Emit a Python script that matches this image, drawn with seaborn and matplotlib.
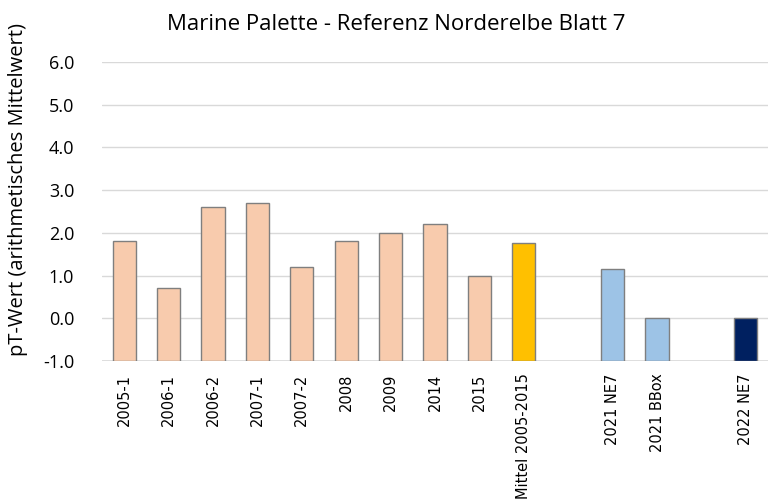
import matplotlib
matplotlib.use("Agg")
import matplotlib.pyplot as plt
import seaborn as sns
import pandas as pd
import numpy as np

# Data
slots = ["2005-1", "2006-1", "2006-2", "2007-1", "2007-2", "2008", "2009", "2014", "2015",
         "Mittel 2005-2015", " ", "2021 NE7", "2021 BBox", "  ", "2022 NE7"]
categories = ["2005-1", "2006-1", "2006-2", "2007-1", "2007-2", "2008", "2009", "2014", "2015",
              "Mittel 2005-2015", "2021 NE7", "2021 BBox", "2022 NE7"]
values = [1.8, 0.7, 2.6, 2.7, 1.2, 1.8, 2.0, 2.2, 1.0, 1.77, 1.16, 0.0, 0.0]
groups = ["ref"] * 9 + ["mean", "2021", "2021", "2022"]
palette = {"ref": "#F8CBAD", "mean": "#FFC000", "2021": "#9DC3E6", "2022": "#002060"}
y_min, y_max = -1.0, 6.0
yticks = [-1.0, 0.0, 1.0, 2.0, 3.0, 4.0, 5.0, 6.0]

df = pd.DataFrame({"cat": categories, "val": values, "grp": groups})
df["height"] = df["val"] - y_min

sns.set_theme(style="white")
plt.rcParams["font.family"] = ["Open Sans", "DejaVu Sans"]

fig = plt.figure(figsize=(7.73, 5.0), dpi=100)
ax = fig.add_axes([102 / 773, 1 - 361 / 500, (768 - 102) / 773, (361 - 62) / 500])

sns.barplot(data=df, x="cat", y="height", hue="grp", palette=palette, order=slots,
            dodge=False, width=0.52, edgecolor="#7F7F7F", linewidth=1.0, saturation=1,
            legend=False, ax=ax, bottom=y_min, zorder=3)

ax.set_ylim(y_min, y_max)
ax.set_xlim(-0.5, len(slots) - 0.5)
ax.set_yticks(yticks)
ax.set_yticklabels([f"{t:.1f}" for t in yticks], fontsize=13, color="#000000")
ax.yaxis.grid(True, color="#D9D9D9", linewidth=1.0, zorder=0)
ax.xaxis.grid(False)
for s in ["top", "right", "left", "bottom"]:
    ax.spines[s].set_visible(False)
ax.axhline(y_min, color="#D9D9D9", linewidth=1.2, zorder=2)

ax.set_xticks(range(len(slots)))
ax.set_xticklabels(slots, rotation=90, fontsize=10.5, family="DejaVu Sans", color="#000000")
ax.tick_params(axis="x", length=0, pad=9)
ax.tick_params(axis="y", length=0, pad=20)
ax.set_xlabel("")
ax.set_ylabel("")

fig.text(396 / 773, 1 - 25 / 500, "Marine Palette - Referenz Norderelbe Blatt 7",
         ha="center", va="center", fontsize=16, color="#000000")
fig.text(18 / 773, 1 - 190 / 500, "pT-Wert (arithmetisches Mittelwert)",
         ha="center", va="center", rotation=90, fontsize=14.5, color="#000000")

fig.savefig("out.png", dpi=100)
